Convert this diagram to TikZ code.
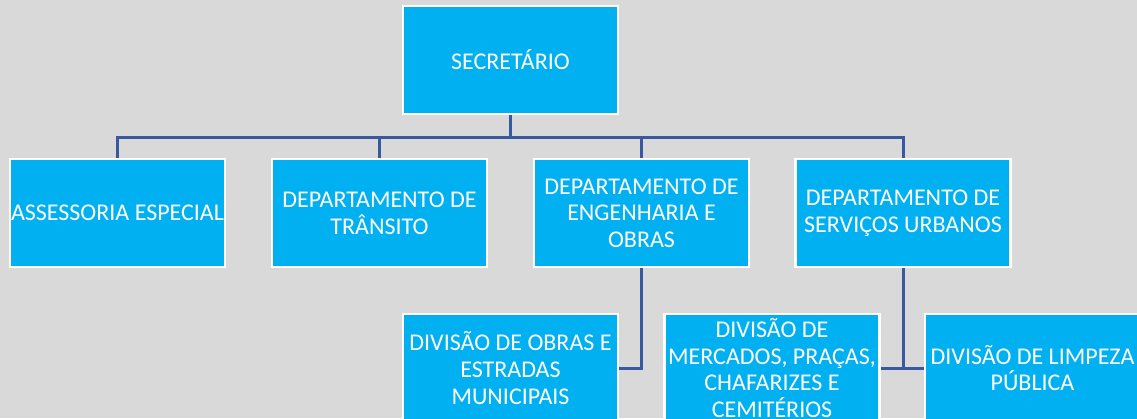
\documentclass[tikz,border=0pt]{standalone}
\usepackage{fontspec}
\setmainfont{Carlito}
\definecolor{bggray}{HTML}{D9D9D9}
\definecolor{boxcyan}{HTML}{00B0F0}
\definecolor{linkblue}{HTML}{3858A2}
\begin{document}
\begin{tikzpicture}[x=1pt,y=-1pt,
  orgbox/.style={fill=boxcyan,draw=white,line width=2.2pt,minimum width=215pt,minimum height=108pt,
    inner sep=0pt,align=center,text=white,font=\fontsize{24}{26.7}\selectfont},
  conn/.style={draw=linkblue,line width=3pt}]
\fill[bggray] (0,0) rectangle (1137,418);
\useasboundingbox (0,0) rectangle (1137,418);
\clip (0,0) rectangle (1137,418);
\coordinate (bus) at (0,137);
\node[orgbox] (sec) at (510.5,60) {SECRETÁRIO};
\node[orgbox] (ass) at (117.5,213) {ASSESSORIA ESPECIAL};
\node[orgbox] (tra) at (379.5,213) {DEPARTAMENTO DE\\TRÂNSITO};
\node[orgbox] (eng) at (641.5,213) {DEPARTAMENTO DE\\ENGENHARIA E\\OBRAS};
\node[orgbox] (ser) at (903,213) {DEPARTAMENTO DE\\SERVIÇOS URBANOS};
\node[orgbox] (obr) at (510.5,368) {DIVISÃO DE OBRAS E\\ESTRADAS\\MUNICIPAIS};
\node[orgbox] (mer) at (772,368) {DIVISÃO DE\\MERCADOS, PRAÇAS,\\CHAFARIZES E\\CEMITÉRIOS};
\node[orgbox] (lim) at (1032.5,368) {DIVISÃO DE LIMPEZA\\PÚBLICA};
\draw[conn] (sec.south) -- (sec.south |- bus);
\draw[conn] (ass.north) -- (ass.north |- bus) -| (ser.north);
\draw[conn] (tra.north) -- (tra.north |- bus);
\draw[conn] (eng.north) -- (eng.north |- bus);
\draw[conn] (eng.south) |- (obr.east);
\draw[conn] (ser.south) -- (ser.south |- mer.east);
\draw[conn] (mer.east) -- (lim.west);
\end{tikzpicture}
\end{document}
